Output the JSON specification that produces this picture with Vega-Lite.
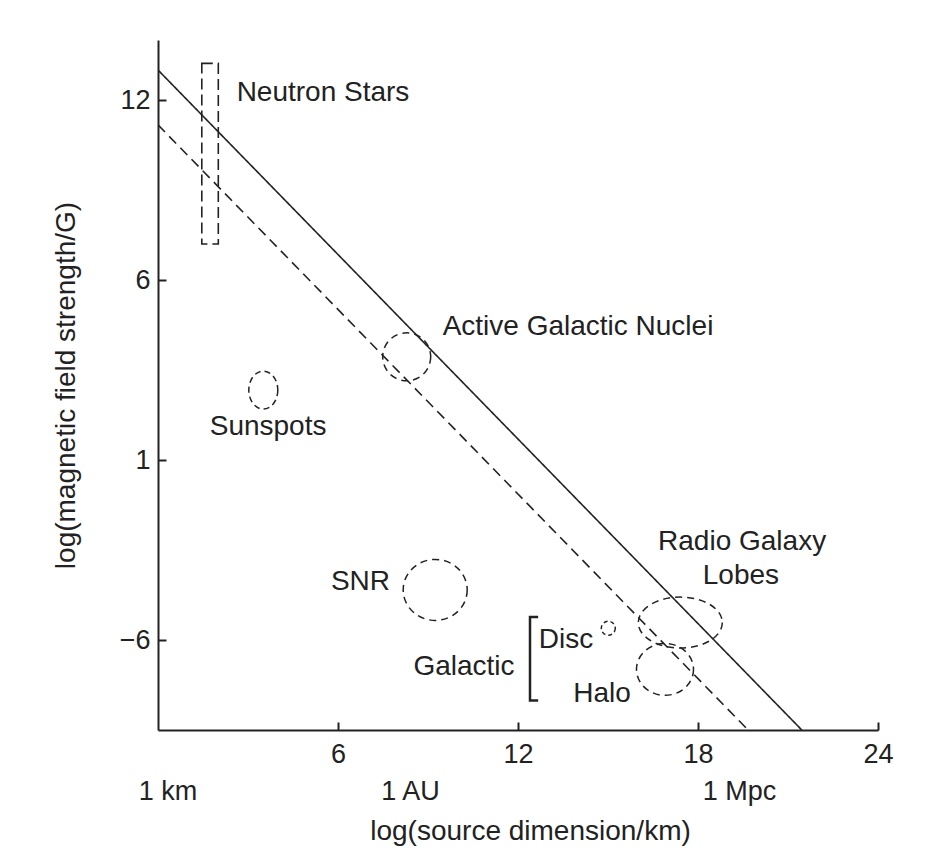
{
  "$schema": "https://vega.github.io/schema/vega-lite/v6.json",
  "width": 720,
  "height": 690,
  "autosize": {"type": "none"},
  "padding": {"left": 158, "top": 40, "right": 55, "bottom": 128},
  "background": "white",
  "config": {
    "view": {"stroke": null},
    "font": "Liberation Sans",
    "axis": {"labelFont": "Liberation Sans", "titleFont": "Liberation Sans", "labelColor": "#222", "titleColor": "#222", "domainColor": "#222", "tickColor": "#222", "grid": false, "titleFontWeight": "normal"}
  },
  "datasets": {
    "lines": [
      {"style": "solid", "x": 0, "y": 13.0},
      {"style": "solid", "x": 21.46, "y": -9},
      {"style": "dashed", "x": 0, "y": 11.17},
      {"style": "dashed", "x": 19.67, "y": -9}
    ],
    "regions": [
      {"name": "AGN", "x": 8.29, "y": 3.44},
      {"name": "Sunspots", "x": 3.51, "y": 2.33},
      {"name": "SNR", "x": 9.24, "y": -4.33},
      {"name": "Disc", "x": 15.01, "y": -5.61},
      {"name": "Lobes", "x": 17.41, "y": -5.42},
      {"name": "Halo", "x": 16.9, "y": -6.98}
    ],
    "neutron": [{"x": 1.46, "x2": 2.01, "y": 13.22, "y2": 7.2}],
    "bracket": [
      {"i": 1, "x": 12.63, "y": -5.23},
      {"i": 2, "x": 12.4, "y": -5.23},
      {"i": 3, "x": 12.4, "y": -8.02},
      {"i": 4, "x": 12.63, "y": -8.02}
    ],
    "labels": [
      {"label": "Neutron Stars", "x": 5.5, "y": 11.98},
      {"label": "Active Galactic Nuclei", "x": 14.0, "y": 4.17},
      {"label": "Sunspots", "x": 3.67, "y": 0.83},
      {"label": "SNR", "x": 6.75, "y": -4.33},
      {"label": "Radio Galaxy", "x": 19.47, "y": -3.0},
      {"label": "Lobes", "x": 19.43, "y": -4.13},
      {"label": "Disc", "x": 13.6, "y": -6.27},
      {"label": "Galactic", "x": 10.2, "y": -7.17},
      {"label": "Halo", "x": 14.8, "y": -8.07}
    ]
  },
  "layer": [
    {
      "data": {"name": "lines"},
      "mark": {"type": "line", "color": "#222", "strokeWidth": 1.6, "clip": true},
      "encoding": {
        "x": {
          "field": "x", "type": "quantitative",
          "scale": {"domain": [0, 24], "nice": false, "zero": false},
          "axis": {
            "title": "log(source dimension/km)",
            "values": [0.32, 6, 8.4, 12, 18, 19.37, 24],
            "labelExpr": "datum.value % 6 == 0 ? datum.label : (datum.value < 1 ? '1 km' : (datum.value < 10 ? '1 AU' : '1 Mpc'))",
            "labelFontSize": 27,
            "labelFlush": false,
            "labelOverlap": false,
            "tickSize": -8,
            "tickWidth": 2,
            "domainWidth": 2,
            "tickOpacity": {"condition": {"test": "datum.value % 6 != 0", "value": 0}, "value": 1},
            "labelPadding": {"condition": {"test": "datum.value % 6 != 0", "value": 56}, "value": 19},
            "titleFontSize": 28,
            "titlePadding": 13,
            "titleX": 372
          }
        },
        "y": {
          "field": "y", "type": "quantitative",
          "scale": {"domain": [-9, 14], "nice": false, "zero": false},
          "axis": {
            "title": "log(magnetic field strength/G)",
            "values": [12, 6, 0, -6],
            "labelExpr": "datum.value == 0 ? '1' : datum.label",
            "labelFontSize": 27,
            "labelFlush": false,
            "tickSize": -8,
            "tickWidth": 2,
            "domainWidth": 2,
            "labelPadding": 16,
            "titleFontSize": 28,
            "titlePadding": 39
          }
        },
        "detail": {"field": "style"},
        "strokeDash": {"field": "style", "type": "nominal", "scale": {"domain": ["solid", "dashed"], "range": [[1, 0], [10, 6]]}, "legend": null}
      }
    },
    {
      "data": {"name": "neutron"},
      "mark": {"type": "rect", "filled": false, "color": "#222", "strokeWidth": 1.6, "strokeDash": [11, 5]},
      "encoding": {
        "x": {"field": "x", "type": "quantitative"},
        "x2": {"field": "x2"},
        "y": {"field": "y", "type": "quantitative"},
        "y2": {"field": "y2"}
      }
    },
    {
      "data": {"name": "regions"},
      "transform": [{"filter": "datum.name == 'AGN'"}],
      "mark": {"type": "point", "shape": "circle", "size": 2304, "filled": false, "color": "#222", "strokeWidth": 1.5, "strokeDash": [7, 5], "opacity": 1},
      "encoding": {"x": {"field": "x", "type": "quantitative"}, "y": {"field": "y", "type": "quantitative"}}
    },
    {
      "data": {"name": "regions"},
      "transform": [{"filter": "datum.name == 'Sunspots'"}],
      "mark": {"type": "point", "shape": "M0.763,0 C0.763,0.5523 0.4214,1 0,1 C-0.4214,1 -0.763,0.5523 -0.763,0 C-0.763,-0.5523 -0.4214,-1 0,-1 C0.4214,-1 0.763,-0.5523 0.763,0 Z", "size": 1444, "filled": false, "color": "#222", "strokeWidth": 1.5, "strokeDash": [6, 4], "opacity": 1},
      "encoding": {"x": {"field": "x", "type": "quantitative"}, "y": {"field": "y", "type": "quantitative"}}
    },
    {
      "data": {"name": "regions"},
      "transform": [{"filter": "datum.name == 'SNR'"}],
      "mark": {"type": "point", "shape": "M1,0 C1,0.5264 0.5523,0.953 0,0.953 C-0.5523,0.953 -1,0.5264 -1,0 C-1,-0.5264 -0.5523,-0.953 0,-0.953 C0.5523,-0.953 1,-0.5264 1,0 Z", "size": 4096, "filled": false, "color": "#222", "strokeWidth": 1.5, "strokeDash": [7, 5], "opacity": 1},
      "encoding": {"x": {"field": "x", "type": "quantitative"}, "y": {"field": "y", "type": "quantitative"}}
    },
    {
      "data": {"name": "regions"},
      "transform": [{"filter": "datum.name == 'Disc'"}],
      "mark": {"type": "point", "shape": "circle", "size": 196, "filled": false, "color": "#222", "strokeWidth": 1.5, "strokeDash": [4, 3], "opacity": 1},
      "encoding": {"x": {"field": "x", "type": "quantitative"}, "y": {"field": "y", "type": "quantitative"}}
    },
    {
      "data": {"name": "regions"},
      "transform": [{"filter": "datum.name == 'Lobes'"}],
      "mark": {"type": "point", "shape": "M1,0 C1,0.3352 0.5523,0.607 0,0.607 C-0.5523,0.607 -1,0.3352 -1,0 C-1,-0.3352 -0.5523,-0.607 0,-0.607 C0.5523,-0.607 1,-0.3352 1,0 Z", "size": 7056, "filled": false, "color": "#222", "strokeWidth": 1.5, "strokeDash": [7, 5], "opacity": 1},
      "encoding": {"x": {"field": "x", "type": "quantitative"}, "y": {"field": "y", "type": "quantitative"}}
    },
    {
      "data": {"name": "regions"},
      "transform": [{"filter": "datum.name == 'Halo'"}],
      "mark": {"type": "point", "shape": "M1,0 C1,0.5026 0.5523,0.91 0,0.91 C-0.5523,0.91 -1,0.5026 -1,0 C-1,-0.5026 -0.5523,-0.91 0,-0.91 C0.5523,-0.91 1,-0.5026 1,0 Z", "size": 3249, "filled": false, "color": "#222", "strokeWidth": 1.5, "strokeDash": [7, 5], "opacity": 1},
      "encoding": {"x": {"field": "x", "type": "quantitative"}, "y": {"field": "y", "type": "quantitative"}}
    },
    {
      "data": {"name": "bracket"},
      "mark": {"type": "line", "color": "#222", "strokeWidth": 2.5, "strokeCap": "square"},
      "encoding": {
        "x": {"field": "x", "type": "quantitative"},
        "y": {"field": "y", "type": "quantitative"},
        "order": {"field": "i", "type": "quantitative"}
      }
    },
    {
      "data": {"name": "labels"},
      "mark": {"type": "text", "font": "Liberation Sans", "fontSize": 28, "color": "#222", "align": "center", "baseline": "alphabetic"},
      "encoding": {
        "x": {"field": "x", "type": "quantitative"},
        "y": {"field": "y", "type": "quantitative"},
        "text": {"field": "label"}
      }
    }
  ]
}
